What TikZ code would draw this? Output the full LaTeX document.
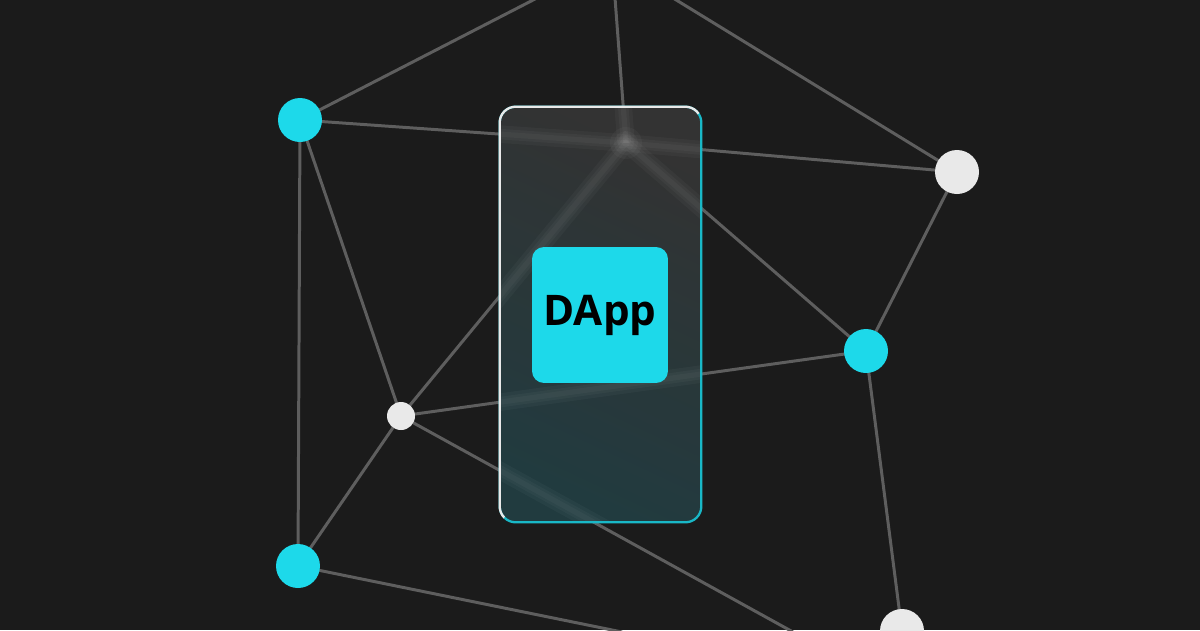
\documentclass[tikz,border=0pt]{standalone}
\usepackage{fontspec}
\newfontfamily\dappfont{Open Sans}
\usetikzlibrary{calc,positioning}

\definecolor{bgdark}{HTML}{1B1B1B}
\definecolor{linkgray}{HTML}{5E5E5E}
\definecolor{dappcyan}{HTML}{1DD9EA}
\definecolor{nodewhite}{HTML}{E9E9E9}
\definecolor{phonetop}{HTML}{333333}
\definecolor{phonebot}{HTML}{1F3D42}

\tikzset{
  link/.style={draw=linkgray, line width=1.7pt},
  blurlink/.style={draw=white, line width=#1, opacity=0.03},
  bignode/.style={circle, minimum size=0.88cm, inner sep=0pt},
  cyannode/.style={bignode, fill=dappcyan},
  whitenode/.style={bignode, fill=nodewhite},
  smallnode/.style={circle, minimum size=0.56cm, inner sep=0pt, fill=nodewhite},
  phonebox/.style={rectangle, rounded corners=0.32cm, minimum width=4.02cm,
    minimum height=8.3cm, inner sep=0pt},
  appbox/.style={rectangle, rounded corners=0.24cm, minimum size=2.72cm,
    inner sep=0pt, fill=dappcyan, text=black, font=\dappfont\bfseries\fontsize{24}{28}\selectfont},
}

\begin{document}
\begin{tikzpicture}[x=0.02cm, y=-0.02cm]
% background
\fill[bgdark] (0,0) rectangle (1200,630);
\useasboundingbox (0,0) rectangle (1200,630);
\clip (0,0) rectangle (1200,630);

% network points
\coordinate (A) at (300,120);
\coordinate (B) at (957,172);
\coordinate (C) at (866,351);
\coordinate (D) at (401,416);
\coordinate (E) at (298,566);
\coordinate (F) at (902,631);
\coordinate (H) at (626,143);
% loose ends off the page
\coordinate (t1) at (537,-2);
\coordinate (t2) at (615,-2);
\coordinate (t3) at (673,-2);
\coordinate (b1) at (622,632);
\coordinate (b2) at (793,632);

% links
\draw[link] (A) -- (t1);
\draw[link] (H) -- (t2);
\draw[link] (B) -- (t3);
\draw[link] (A) -- (H) -- (B);
\draw[link] (A) -- (E);
\draw[link] (A) -- (D);
\draw[link] (D) -- (H) -- (C);
\draw[link] (B) -- (C) -- (F);
\draw[link] (D) -- (C);
\draw[link] (D) -- (E) -- (b1);
\draw[link] (D) -- (b2);

% phone glass
\node[phonebox, fill=phonetop] (phone) at (600.5,314.5) {};
\shade[top color=phonetop, bottom color=phonebot, shading angle=-25, opacity=0.85, rounded corners=0.32cm]
  (phone.north west) rectangle (phone.south east);
\begin{scope}
  \clip[rounded corners=0.32cm] (phone.north west) rectangle (phone.south east);
  % soft links seen through the glass
  \foreach \w in {10pt,6pt,3pt} {
    \draw[blurlink=\w] (t2) -- (H);
    \draw[blurlink=\w] (A) -- (H) -- (B);
    \draw[blurlink=\w] (D) -- (H) -- (C);
    \draw[blurlink=\w] (D) -- (C);
    \draw[blurlink=\w] (D) -- (b2);
  }
  % glow where the links meet
  \foreach \r in {4,8,12,16}
    \fill[white, opacity=0.03] (H) circle (\r);
\end{scope}

% phone rim
\draw[dappcyan!85!black, line width=1.3pt, rounded corners=0.32cm]
  (phone.north west) rectangle (phone.south east);
\begin{scope}
  \clip (470,560) -- (470,80) -- (730,80) -- (688,125) -- (512,508) -- cycle;
  \draw[nodewhite, line width=1.3pt, rounded corners=0.32cm]
    (phone.north west) rectangle (phone.south east);
\end{scope}

% app tile
\node[appbox] (app) at (600,315) {DApp};

% nodes
\node[cyannode] (nA) at (A) {};
\node[whitenode] (nB) at (B) {};
\node[cyannode] (nC) at (C) {};
\node[smallnode] (nD) at (D) {};
\node[cyannode] (nE) at (E) {};
\node[whitenode] (nF) at (F) {};
\end{tikzpicture}
\end{document}
